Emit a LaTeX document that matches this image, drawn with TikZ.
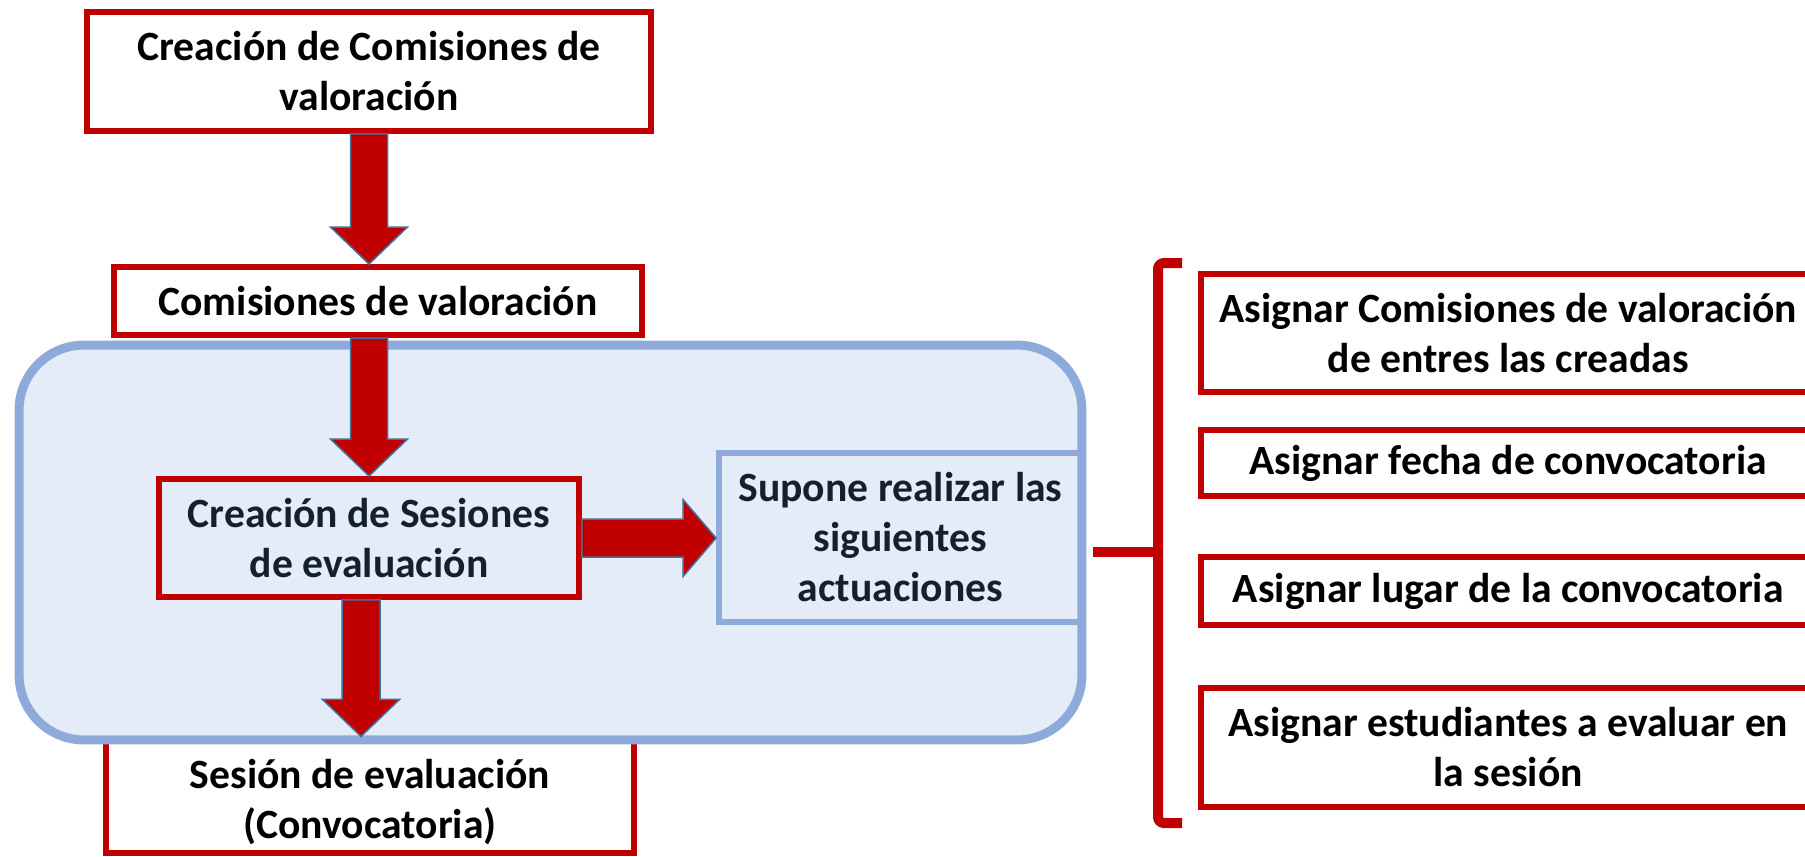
\documentclass[tikz,border=0pt]{standalone}
\usepackage{fontspec}
\setmainfont{Carlito}
\usetikzlibrary{calc}
\definecolor{dred}{HTML}{C00000}
\definecolor{lblue}{HTML}{8EAADB}
\definecolor{panelfill}{HTML}{E4ECF7}
\definecolor{aedge}{HTML}{41719C}
\definecolor{navy}{HTML}{14202E}
\begin{document}
\begin{tikzpicture}[x=0.02cm,y=-0.02cm,
  txt/.style={font=\fontsize{23.7}{28.45}\selectfont\bfseries, align=center, text=black, inner sep=0pt},
  redbox/.style={draw=dred, line width=0.12cm, fill=white, inner sep=0pt},
  bluebox/.style={draw=lblue, line width=0.12cm, inner sep=0pt},
  bigarrow/.style={fill=dred, draw=aedge, line width=0.03cm, line join=miter},
  bracket/.style={draw=dred, line width=0.2cm}
]
\clip (0,0) rectangle (1805,856);
\fill[white] (0,0) rectangle (1805,856);

% bottom box (partly under the panel)
\node[redbox, minimum width=10.56cm, minimum height=3.06cm] (b5) at (370,776.5) {};
\node[txt] (t5) at (370,802) {Sesión de evaluación\\(Convocatoria)};

% panel
\node[draw=lblue, line width=0.18cm, fill=panelfill, rounded corners=1.3cm,
      minimum width=21.26cm, minimum height=7.9cm, inner sep=0pt] (panel) at (550.5,542.5) {};

% top boxes
\node[redbox, txt, minimum width=11.28cm, minimum height=2.38cm] (b1) at (369,71.5) {Creación de Comisiones de\\valoración};
\node[redbox, txt, minimum width=10.56cm, minimum height=1.36cm] (b2) at (378,301) {Comisiones de valoración};

% inside the panel
\node[redbox, txt, fill=none, text=navy, minimum width=8.4cm, minimum height=2.36cm] (b3) at (369,538) {Creación de Sesiones\\de evaluación};
\node[bluebox, txt, text=navy, minimum width=7.26cm, minimum height=3.38cm] (b4) at (900.5,537.5) {Supone realizar las\\siguientes\\actuaciones};

% arrows
\draw[bigarrow] ($(b1.south)+(-18.5,0)$) -- ($(b1.south |- b2.north)+(-18.5,-37)$) -- ++(-20,0)
  -- (b1.south |- b2.north) -- ++(38.5,-37) -- ++(-20,0) -- ($(b1.south)+(18.5,0)$) -- cycle;
\draw[bigarrow] ($(b3.north |- b2.south)+(-18.5,0)$) -- ($(b3.north)+(-18.5,-37)$) -- ++(-20,0)
  -- (b3.north) -- ++(38.5,-37) -- ++(-20,0) -- ($(b3.north |- b2.south)+(18.5,0)$) -- cycle;
\draw[bigarrow] ($(b3.south)+(-27,0)$) -- ($(b3.south |- panel.south)+(-27,-45)$) -- ++(-19.5,0)
  -- ($(b3.south |- panel.south)+(-8,-8)$) -- ++(38.5,-37) -- ++(-19.5,0) -- ($(b3.south)+(11,0)$) -- cycle;
\draw[bigarrow] ($(b3.east)+(0,-19)$) -- ($(b4.west |- b3.east)+(-33,-19)$) -- ++(0,-19.5)
  -- (b4.west |- b3.east) -- ++(-33,38.5) -- ++(0,-19.5) -- ($(b3.east)+(0,19)$) -- cycle;

% bracket
\coordinate (bm) at (1158,552);
\coordinate (bs) at (1093,552);
\draw[bracket, rounded corners=0.12cm] (1182,263) -- (1158,263) -- (1158,823) -- (1182,823);
\draw[bracket] (bm) -- (bs);

% right boxes
\node[redbox, txt, minimum width=12.31cm, minimum height=2.36cm] (r1) at (1508.25,333) {Asignar Comisiones de valoración\\de entres las creadas};
\node[redbox, txt, minimum width=12.31cm, minimum height=1.32cm] (r2) at (1508.25,463) {Asignar fecha de convocatoria};
\node[redbox, txt, minimum width=12.31cm, minimum height=1.36cm] (r3) at (1508.25,591) {Asignar lugar de la convocatoria};
\node[redbox, txt, minimum width=12.31cm, minimum height=2.38cm] (r4) at (1508.25,747.5) {Asignar estudiantes a evaluar en\\la sesión};
\end{tikzpicture}
\end{document}
